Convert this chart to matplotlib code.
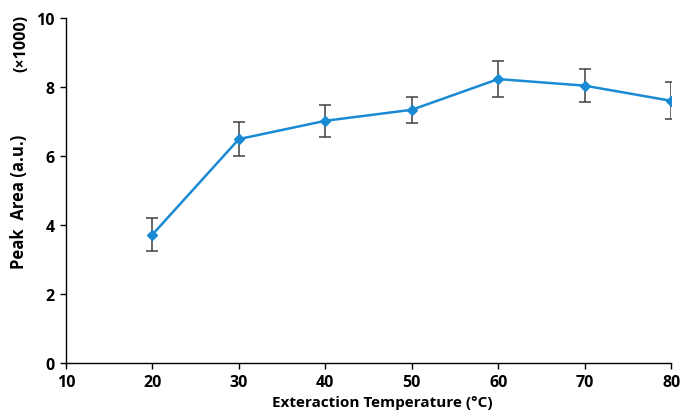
import matplotlib.pyplot as plt

temps = [20, 30, 40, 50, 60, 70, 80]
peak_area = [3.72, 6.49, 7.02, 7.34, 8.23, 8.04, 7.60]
errors = [0.47, 0.50, 0.46, 0.37, 0.51, 0.48, 0.54]

plt.rcParams['font.family'] = ['Open Sans', 'DejaVu Sans']
plt.rcParams['font.weight'] = 'bold'

fig = plt.figure(figsize=(6.8, 4.14), dpi=100)
ax = fig.add_axes([0.097, 0.121, 0.89, 0.833])

ax.errorbar(temps, peak_area, yerr=errors, color='#1a8ad4', linewidth=1.8,
            marker='D', markersize=5, ecolor='#404040', elinewidth=1.1,
            capsize=4, capthick=1.1)

ax.set_xlim(10, 80)
ax.set_ylim(0, 10)
ax.set_xticks(range(10, 81, 10))
ax.set_yticks(range(0, 11, 2))
ax.spines['top'].set_visible(False)
ax.spines['right'].set_visible(False)
for s in ('left', 'bottom'):
    ax.spines[s].set_color('black')
    ax.spines[s].set_linewidth(1.0)
ax.tick_params(direction='out', length=4, width=1, labelsize=11.5, pad=4)
for lab in ax.get_xticklabels() + ax.get_yticklabels():
    lab.set_fontweight('bold')

ax.set_xlabel('Exteraction Temperature (°C)', fontsize=11, fontweight='bold')
ax.xaxis.set_label_coords(0.522, -0.092)
ax.set_ylabel('Peak  Area (a.u.)', fontsize=12, fontweight='bold')
ax.yaxis.set_label_coords(-0.063, 0.47)
fig.text(0.032, 0.894, '(×1000)', rotation=90, fontsize=11.5, fontweight='bold',
         ha='center', va='center')

fig.savefig('out.png', dpi=100)
